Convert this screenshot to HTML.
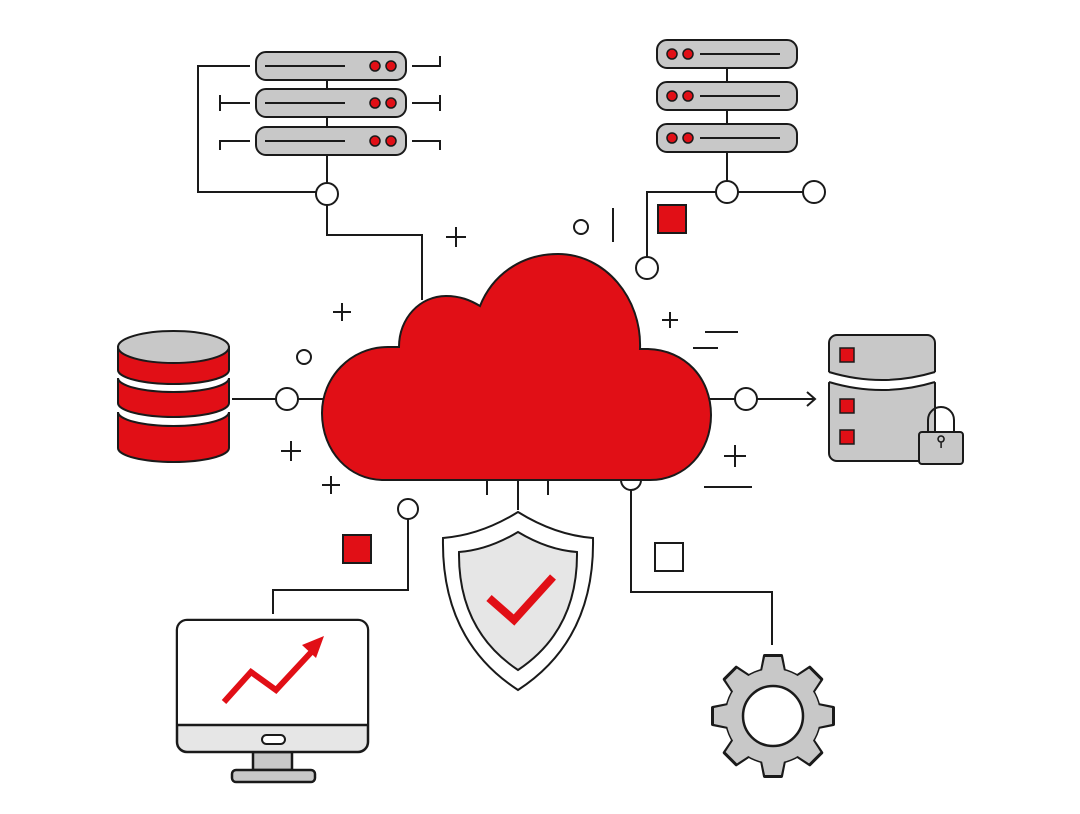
<!DOCTYPE html>
<html><head><meta charset="utf-8"><style>html,body{margin:0;padding:0;background:#fff}svg{display:block}</style></head>
<body>
<svg width="1080" height="814" viewBox="0 0 1080 814" xmlns="http://www.w3.org/2000/svg">
<g fill="none" stroke="#1a1a1a" stroke-width="2">
<path d="M250 66 H198 V192 H316"/>
<path d="M327 205 V235 H422 V300"/>
<path d="M327 80 V183"/>
<path d="M412 66 H440 V56"/>
<path d="M220 103 H250 M220 95 V111 M412 103 H440 M440 95 V111"/>
<path d="M250 141 H220 V150 M412 141 H440 V150"/>
<path d="M727 68 V181 M738 192 H803 M716 192 H647 V257"/>
<path d="M232 399 H276 M298 399 H324 M708 399 H735 M757 399 H815 M807 392 L815 399 L807 406"/>
<path d="M487 480 V495 M548 480 V495 M518 480 V510"/>
<path d="M408 519 V590 H273 V614"/>
<path d="M631 489 V592 H772 V645"/>
<path d="M446 237 H466 M456 227 V247 M333 312 H351 M342 303 V321 M281 451 H301 M291 441 V461 M322 485 H340 M331 476 V494 M662 320 H678 M670 312 V328 M724 456 H746 M735 445 V467"/>
<path d="M613 208 V242 M705 332 H738 M693 348 H718 M704 487 H752"/>
<circle cx="581" cy="227" r="7"/><circle cx="304" cy="357" r="7"/>
</g>
<rect x="658" y="205" width="28" height="28" fill="#e10f16" stroke="#1a1a1a" stroke-width="2"/>
<rect x="343" y="535" width="28" height="28" fill="#e10f16" stroke="#1a1a1a" stroke-width="2"/>
<rect x="655" y="543" width="28" height="28" fill="#fff" stroke="#1a1a1a" stroke-width="2"/>

<g stroke="#1a1a1a" stroke-width="2" fill="#fff">
<circle cx="327" cy="194" r="11"/><circle cx="727" cy="192" r="11"/><circle cx="814" cy="192" r="11"/><circle cx="647" cy="268" r="11"/>
<circle cx="287" cy="399" r="11"/><circle cx="746" cy="399" r="11"/><circle cx="408" cy="509" r="10"/>
<circle cx="631" cy="480" r="10"/>
</g>

<g stroke="#1a1a1a" stroke-width="2">
<rect x="256" y="52" width="150" height="28" rx="10" fill="#c8c8c8"/>
<rect x="256" y="89" width="150" height="28" rx="10" fill="#c8c8c8"/>
<rect x="256" y="127" width="150" height="28" rx="10" fill="#c8c8c8"/>
<path d="M265 66 H345 M265 103 H345 M265 141 H345" fill="none"/>
<g fill="#e10f16" stroke-width="1.5"><circle cx="375" cy="66" r="5"/><circle cx="391" cy="66" r="5"/><circle cx="375" cy="103" r="5"/><circle cx="391" cy="103" r="5"/><circle cx="375" cy="141" r="5"/><circle cx="391" cy="141" r="5"/></g>
<rect x="657" y="40" width="140" height="28" rx="10" fill="#c8c8c8"/>
<rect x="657" y="82" width="140" height="28" rx="10" fill="#c8c8c8"/>
<rect x="657" y="124" width="140" height="28" rx="10" fill="#c8c8c8"/>
<path d="M727 68 V82 M727 110 V124 M700 54 H780 M700 96 H780 M700 138 H780" fill="none"/>
<g fill="#e10f16" stroke-width="1.5"><circle cx="672" cy="54" r="5"/><circle cx="688" cy="54" r="5"/><circle cx="672" cy="96" r="5"/><circle cx="688" cy="96" r="5"/><circle cx="672" cy="138" r="5"/><circle cx="688" cy="138" r="5"/></g>
</g>

<!-- cloud -->
<path d="M383 480 H650 C685 480 711 452 711 415 C711 378 685 350 648 349 L640 349 C642 298 605 254 558 254 C520 254 492 276 480 306 C470 300 460 296 446 296 C420 296 399 318 399 347 L388 347 C350 347 322 378 322 413 C322 452 350 480 383 480 Z" fill="#e10f16" stroke="#1a1a1a" stroke-width="2"/>

<g stroke="#1a1a1a" stroke-width="2" fill="#e10f16">
<path d="M118 412 V448 A55.5 14 0 0 0 229 448 V412 A55.5 14 0 0 1 118 412 Z"/>
<path d="M118 378 V403 A55.5 14 0 0 0 229 403 V378 A55.5 14 0 0 1 118 378 Z"/>
<path d="M118 347 V370 A55.5 14 0 0 0 229 370 V347 Z"/>
<ellipse cx="173.5" cy="347" rx="55.5" ry="16" fill="#c8c8c8"/>
</g>

<g stroke="#1a1a1a" stroke-width="2">
<rect x="829" y="335" width="106" height="126" rx="8" fill="#c8c8c8"/>
<path d="M828 372 Q882 388 936 372 L936 382 Q882 398 828 382 Z" fill="#fff" stroke="none"/>
<path d="M829 372 Q882 388 935 372 M829 382 Q882 398 935 382" fill="none"/>
<g fill="#e10f16" stroke-width="1.5"><rect x="840" y="348" width="14" height="14"/><rect x="840" y="399" width="14" height="14"/><rect x="840" y="430" width="14" height="14"/></g>
<path d="M928 433 V420 A13 13 0 0 1 954 420 V433" fill="none"/>
<rect x="919" y="432" width="44" height="32" rx="3" fill="#c8c8c8"/>
<path d="M941 442 a3 3 0 1 1 0.1 0 v6" fill="none" stroke-width="1.5"/>
</g>

<g stroke="#1a1a1a" stroke-width="2">
<path d="M518 512 Q555 535 593 538 Q595 640 518 690 Q441 640 443 538 Q481 535 518 512 Z" fill="#fff"/>
<path d="M518 532 Q548 550 577 552 Q578 630 518 670 Q458 630 459 552 Q488 550 518 532 Z" fill="#e6e6e6"/>
</g>
<polyline points="489,598 514,620 553,577" fill="none" stroke="#e10f16" stroke-width="8"/>

<g stroke="#1a1a1a" stroke-width="2.5">
<rect x="253" y="752" width="39" height="18" fill="#c8c8c8"/>
<rect x="232" y="770" width="83" height="12" rx="4" fill="#c8c8c8"/>
<rect x="177" y="620" width="191" height="132" rx="10" fill="#e6e6e6"/>
<path d="M187 621 H358 A9 9 0 0 1 367 630 V725 H178 V630 A9 9 0 0 1 187 621 Z" fill="#fff" stroke="none"/>
<path d="M178 725 H367" fill="none"/>
<rect x="262" y="735" width="23" height="9" rx="4.5" fill="#fff" stroke-width="2"/>
</g>
<polyline points="224,702 251,672 276,690 316,647" fill="none" stroke="#e10f16" stroke-width="6"/>
<polygon points="324,636 302,645 316,658" fill="#e10f16"/>

<g transform="translate(773,716)">
<g fill="#1a1a1a">
<circle r="48.5"/>
<g id="t"><path d="M-11.5 -45 L-8.5 -60.5 H8.5 L11.5 -45 Z" stroke="#1a1a1a" stroke-width="3" stroke-linejoin="round"/></g>
<use href="#t" transform="rotate(45)"/><use href="#t" transform="rotate(90)"/><use href="#t" transform="rotate(135)"/><use href="#t" transform="rotate(180)"/><use href="#t" transform="rotate(225)"/><use href="#t" transform="rotate(270)"/><use href="#t" transform="rotate(315)"/>
</g>
<g fill="#c8c8c8">
<circle r="47"/>
<g id="t2"><path d="M-11 -45 L-8 -59 H8 L11 -45 Z"/></g>
<use href="#t2" transform="rotate(45)"/><use href="#t2" transform="rotate(90)"/><use href="#t2" transform="rotate(135)"/><use href="#t2" transform="rotate(180)"/><use href="#t2" transform="rotate(225)"/><use href="#t2" transform="rotate(270)"/><use href="#t2" transform="rotate(315)"/>
</g>
<circle r="30" fill="#fff" stroke="#1a1a1a" stroke-width="2.5"/>
</g>
</svg>
</body></html>
